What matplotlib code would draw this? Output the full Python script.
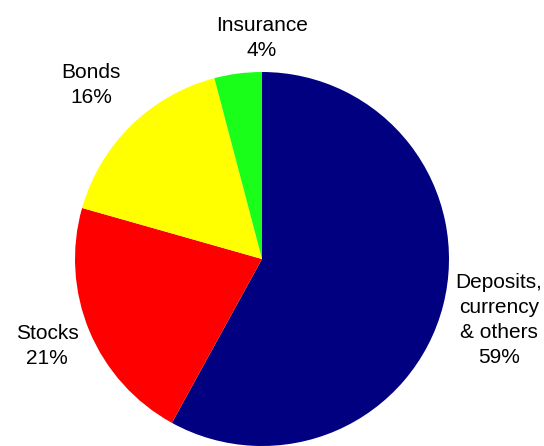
# household financial assets pie
import matplotlib
matplotlib.use('Agg')
import matplotlib.pyplot as plt

# data
names = ['Deposits,\ncurrency\n& others', 'Stocks', 'Bonds', 'Insurance']
shares = [58.0, 21.4, 16.5, 4.1]  # wedge sizes as drawn
pct_text = ['59%', '21%', '16%', '4%']
colors = ['#000080', '#ff0000', '#ffff00', '#1aff1a']

plt.rcParams['font.family'] = ['Liberation Sans', 'DejaVu Sans']

fig = plt.figure(figsize=(5.44, 4.46), dpi=100)
ax = fig.add_axes([0, 0, 1, 1])
ax.set_xlim(0, 544)
ax.set_ylim(0, 446)
ax.set_aspect('equal')
ax.axis('off')

# pie centre / radius in pixel coords
cx, cy, r = 262, 446 - 259, 187
ax.pie(shares, colors=colors, startangle=90, counterclock=False,
       center=(cx, cy), radius=r, frame=True,
       wedgeprops=dict(linewidth=0))
ax.axis('off')
ax.set_xlim(0, 544)
ax.set_ylim(0, 446)

# label positions (pixels, y from top)
label_pos = [(499, 320), (47, 346), (91, 85), (262, 38)]
for name, pct, (x, y) in zip(names, pct_text, label_pos):
    ax.text(x, 446 - y, name + '\n' + pct, ha='center', va='center',
            fontsize=15, linespacing=1.4, color='black')

fig.savefig('out.png', dpi=100)
